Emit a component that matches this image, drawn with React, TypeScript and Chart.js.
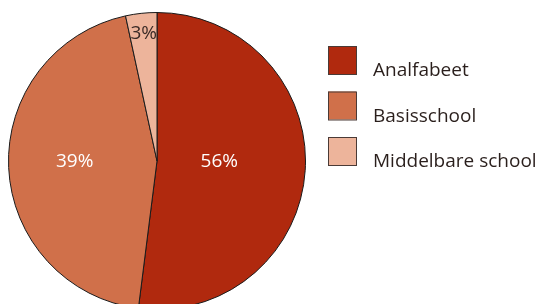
import React, { useEffect, useRef } from "react";
import { Chart, registerables } from "chart.js";

Chart.register(...registerables);

const categories = ["Analfabeet", "Basisschool", "Middelbare school"];
const sliceValues = [52, 44.6, 3.4];
const percentLabels = ["56%", "39%", "3%"];
const sliceColors = ["#B0290E", "#D0704A", "#EDB49B"];
const labelColors = ["#ffffff", "#ffffff", "#3a2a26"];
const labelRadiusFraction = [0.42, 0.555, 0.84];

const FONT = '"Open Sans", "Noto Sans", sans-serif';

const labelPlugin = {
  id: "sliceLabels",
  afterDatasetsDraw(chart: any) {
    const ctx = chart.ctx;
    const meta = chart.getDatasetMeta(0);
    ctx.save();
    ctx.font = `19px ${FONT}`;
    ctx.textAlign = "center";
    ctx.textBaseline = "middle";
    meta.data.forEach((arc: any, i: number) => {
      const p = arc.getProps(["x", "y", "startAngle", "endAngle", "outerRadius"], true);
      const mid = (p.startAngle + p.endAngle) / 2;
      const r = p.outerRadius * labelRadiusFraction[i];
      const x = p.x + Math.cos(mid) * r;
      const y = p.y + Math.sin(mid) * r - 3;
      ctx.fillStyle = labelColors[i];
      ctx.fillText(percentLabels[i], x, y);
    });
    ctx.restore();
  },
};

const legendPlugin = {
  id: "customLegend",
  afterDraw(chart: any) {
    const ctx = chart.ctx;
    ctx.save();
    const boxX = 328;
    const boxTop = 46;
    const box = 28;
    const step = 45.5;
    ctx.font = `19px ${FONT}`;
    ctx.textAlign = "left";
    ctx.textBaseline = "alphabetic";
    categories.forEach((c, i) => {
      const y = boxTop + i * step;
      ctx.fillStyle = sliceColors[i];
      ctx.fillRect(boxX, y, box, box);
      ctx.strokeStyle = "#4a3a36";
      ctx.lineWidth = 1;
      ctx.strokeRect(boxX + 0.5, y + 0.5, box, box);
      ctx.fillStyle = "#2a1f1c";
      ctx.fillText(c, 373, y + 30);
    });
    ctx.restore();
  },
};

export default function App() {
  const ref = useRef<HTMLCanvasElement | null>(null);
  useEffect(() => {
    document.body.style.margin = "0";
    const chart = new Chart(ref.current as HTMLCanvasElement, {
      type: "pie",
      data: {
        labels: categories,
        datasets: [
          {
            data: sliceValues,
            backgroundColor: sliceColors,
            borderColor: "#1a1a1a",
            borderWidth: 1,
          },
        ],
      },
      options: {
        animation: false,
        responsive: false,
        layout: { padding: { left: 8, top: 12, right: 232, bottom: 10 } },
        plugins: {
          legend: { display: false },
          tooltip: { enabled: false },
        },
      },
      plugins: [labelPlugin, legendPlugin],
    });
    return () => chart.destroy();
  }, []);
  return (
    <div style={{ width: 538, height: 304, overflow: "hidden", background: "#fff" }}>
      <canvas ref={ref} width={538} height={320} style={{ display: "block" }} />
    </div>
  );
}
